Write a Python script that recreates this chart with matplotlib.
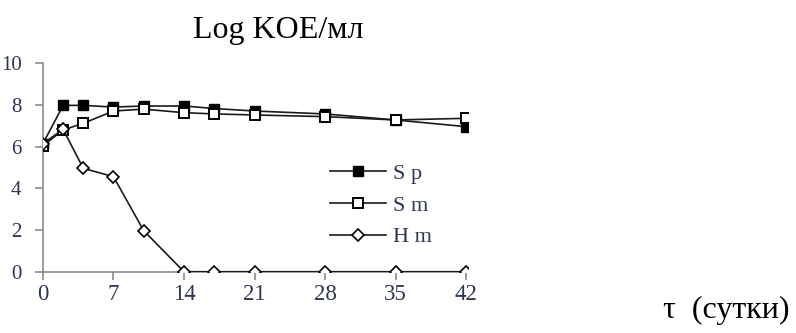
import matplotlib
matplotlib.use("Agg")
import matplotlib.pyplot as plt

# Days of storage and log CFU/ml for each sample
days = [0, 2, 4, 7, 10, 14, 17, 21, 28, 35, 42]
sp_values = [6.15, 7.98, 7.98, 7.9, 7.95, 7.95, 7.83, 7.71, 7.57, 7.28, 6.96]
sm_values = [6.05, 6.8, 7.12, 7.71, 7.8, 7.63, 7.57, 7.52, 7.44, 7.28, 7.36]
hm_values = [6.15, 6.83, 4.96, 4.56, 1.97, 0, 0, 0, 0, 0, 0]
series_labels = ["S p", "S m", "H m"]
x_ticks = [0, 7, 14, 21, 28, 35, 42]
y_ticks = [0, 2, 4, 6, 8, 10]

serif = ["Liberation Serif", "DejaVu Serif"]
label_color = "#2c3652"
spine_color = "#8c8c8c"
line_color = "#1a1a1a"

fig = plt.figure(figsize=(7.96, 3.33), dpi=100)
ax = fig.add_axes([0.054, 0.184, 0.534, 0.626])

ax.plot(days, sp_values, color=line_color, lw=1.2, marker="s", ms=7.5,
        mfc="black", mec="black", mew=1.0, label=series_labels[0], zorder=3)
ax.plot(days, sm_values, color=line_color, lw=1.2, marker="s", ms=7.5,
        mfc="white", mec="black", mew=1.4, label=series_labels[1], zorder=4)
ax.plot(days, hm_values, color=line_color, lw=1.2, marker="D", ms=6,
        mfc="white", mec="black", mew=1.2, label=series_labels[2], zorder=5)

ax.set_xlim(0, 42.2)
ax.set_ylim(0, 10)
ax.set_xticks(x_ticks)
ax.set_yticks(y_ticks)

for side in ("top", "right"):
    ax.spines[side].set_visible(False)
for side in ("left", "bottom"):
    ax.spines[side].set_color(spine_color)
    ax.spines[side].set_linewidth(1.2)
ax.tick_params(axis="both", direction="out", length=5.5, width=1.2,
               color=spine_color)
ax.tick_params(axis="y", pad=10)
ax.tick_params(axis="x", pad=3)
for lbl in ax.get_yticklabels():
    lbl.set_fontfamily(serif)
    lbl.set_fontsize(15)
    lbl.set_color(label_color)
for lbl in ax.get_xticklabels():
    lbl.set_fontfamily(serif)
    lbl.set_fontsize(16.5)
    lbl.set_color(label_color)

leg = ax.legend(loc="center left", bbox_to_anchor=(0.655, 0.318), frameon=False,
                handlelength=2.5, handletextpad=0.3, labelspacing=0.5,
                prop={"family": serif, "size": 16}, borderaxespad=0)
for t in leg.get_texts():
    t.set_color(label_color)

fig.text(278 / 796, 1 - 38 / 333, "Log KOE/мл", ha="center", va="baseline",
         fontsize=23, family=serif, color="black")
fig.text(663 / 796, 1 - 318 / 333, "τ  (сутки)", ha="left", va="baseline",
         fontsize=23, family=serif, color="black")

fig.savefig("out.png", dpi=100)
